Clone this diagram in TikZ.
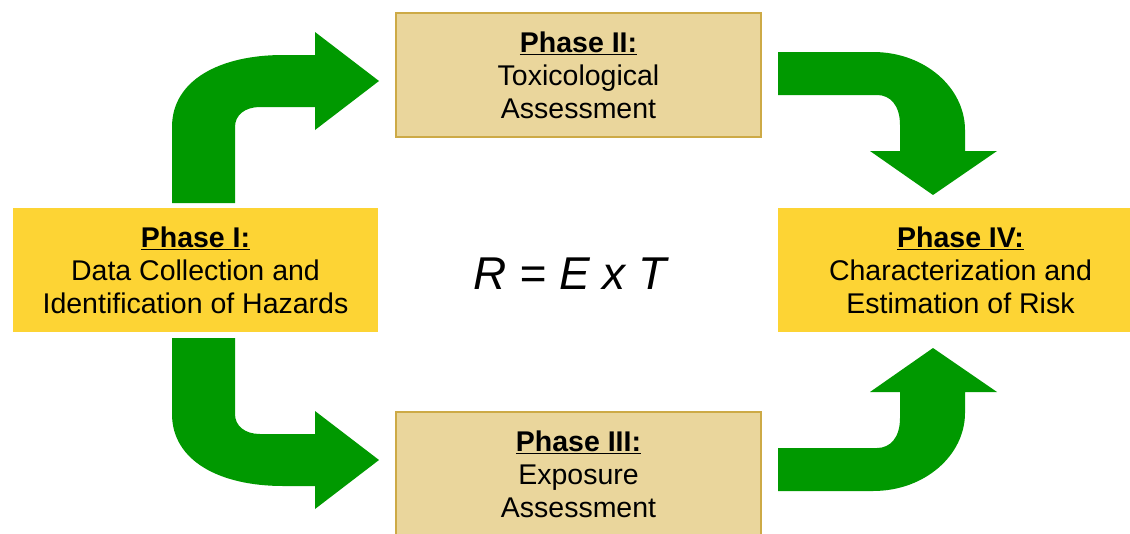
\documentclass[tikz,border=0pt]{standalone}
\usepackage{fontspec}
\setmainfont{Liberation Sans}
\definecolor{phasegold}{RGB}{253,212,52}
\definecolor{phasetan}{RGB}{234,214,156}
\definecolor{tanedge}{RGB}{205,170,70}
\definecolor{arrowgreen}{RGB}{0,153,0}
\newcommand{\phasetitle}[1]{\underline{\textbf{#1}}}

\begin{document}
\begin{tikzpicture}[x=1pt, y=-1pt,
		phasebox/.style={rectangle, minimum width=365, minimum height=124, align=center,
			font=\fontsize{28.5}{33}\selectfont, inner sep=0pt},
		mainbox/.style={phasebox, fill=phasegold},
		sidebox/.style={phasebox, fill=phasetan, draw=tanedge, line width=1.2pt},
		bigarrow/.style={fill=arrowgreen}]
			\useasboundingbox (0,0) rectangle (1130,533);
			\clip (0,0) rectangle (1130,533);
			\node[mainbox] (p1) at (195.5, 270) {\phasetitle{Phase I:}\\Data Collection and\\Identification of Hazards};
			\node[sidebox] (p2) at (578.5, 75) {\phasetitle{Phase II:}\\Toxicological\\Assessment};
			\node[sidebox] (p3) at (578.5, 474) {\phasetitle{Phase III:}\\Exposure\\Assessment};
			\node[mainbox] (p4) at (960.5, 270) {\phasetitle{Phase IV:}\\Characterization and\\Estimation of Risk};
			\node[font=\fontsize{46}{50}\selectfont\itshape] (risk) at (570, 274) {R = E x T};
			% Phase I to Phase II
			\fill[bigarrow] (172,203) -- (172,127) .. controls (172,80) and (220,55) .. (283,55) -- (315,55) -- (315,32) -- (379,81) -- (315,130) -- (315,107) -- (260,107) .. controls (245,107) and (235,115) .. (235,127) -- (235,203) -- cycle;
			% Phase I to Phase III
			\fill[bigarrow] (172,338) -- (172,414) .. controls (172,461) and (220,486) .. (283,486) -- (315,486) -- (315,509) -- (379,460) -- (315,411) -- (315,434) -- (260,434) .. controls (245,434) and (235,426) .. (235,414) -- (235,338) -- cycle;
			% Phase II to Phase IV
			\fill[bigarrow] (778,52) -- (873,52) .. controls (925,52) and (965,88) .. (965,130) -- (965,151) -- (997,151) -- (933,195) -- (870,151) -- (900,151) -- (900,125) .. controls (900,105) and (890,95) .. (877,95) -- (778,95) -- cycle;
			% Phase III to Phase IV
			\fill[bigarrow] (778,491) -- (873,491) .. controls (925,491) and (965,455) .. (965,413) -- (965,392) -- (997,392) -- (933,348) -- (870,392) -- (900,392) -- (900,418) .. controls (900,438) and (890,448) .. (877,448) -- (778,448) -- cycle;
		\end{tikzpicture}
\end{document}
